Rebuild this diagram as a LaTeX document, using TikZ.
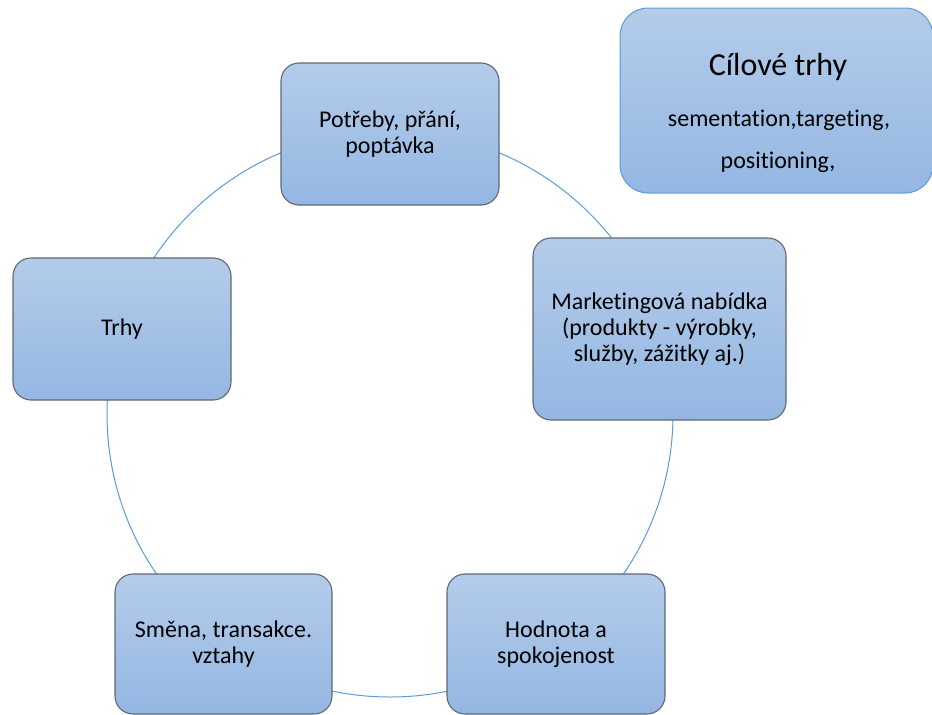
\documentclass[tikz,border=0pt]{standalone}
\usepackage{fontspec}
\setmainfont[RawFeature=-liga]{Carlito}
\definecolor{boxtop}{RGB}{180,204,234}
\definecolor{boxbot}{RGB}{148,183,226}
\definecolor{boxborder}{RGB}{95,104,116}
\definecolor{ringblue}{RGB}{91,155,213}
\tikzset{
  cyc/.style={draw=boxborder, line width=1.1pt, rounded corners=18pt,
    top color=boxtop, bottom color=boxbot, align=center, inner sep=0pt,
    font=\fontsize{24}{26}\selectfont},
  tgt/.style={draw=ringblue, line width=1pt, rounded corners=28pt,
    top color=boxtop, bottom color=boxbot, inner sep=0pt},
  ring/.style={draw=ringblue, line width=1pt},
  plain/.style={inner sep=0pt, align=center}
}
\begin{document}
\begin{tikzpicture}[x=1pt,y=-1pt]
\useasboundingbox (0,0) rectangle (932,715);
\coordinate (ctr) at (390,414);
\draw[ring] (ctr) circle[radius=283pt];
\node[cyc, minimum width=218pt, minimum height=142pt] (potreby) at (390,134) {Potřeby, přání,\\poptávka};
\node[cyc, minimum width=253pt, minimum height=182pt] (nabidka) at (659.5,329) {Marketingová nabídka\\(produkty - výrobky,\\služby, zážitky aj.)};
\node[cyc, minimum width=218pt, minimum height=140pt] (hodnota) at (556,644) {Hodnota a\\spokojenost};
\node[cyc, minimum width=217pt, minimum height=140pt] (smena) at (223.5,644) {Směna, transakce.\\vztahy};
\node[cyc, minimum width=218pt, minimum height=142pt] (trhy) at (122,329) {Trhy};
\node[tgt, minimum width=313pt, minimum height=185pt] (cil) at (776.5,100.5) {};
\node[plain, font=\fontsize{32}{34}\selectfont, anchor=base] (ciltitle) at (778,75) {Cílové trhy};
\node[plain, font=\fontsize{24}{25}\selectfont, anchor=base] (cilline1) at (779,126) {sementation,targeting,};
\node[plain, font=\fontsize{24}{25}\selectfont, anchor=base] (cilline2) at (778,168) {positioning,};
\end{tikzpicture}
\end{document}
